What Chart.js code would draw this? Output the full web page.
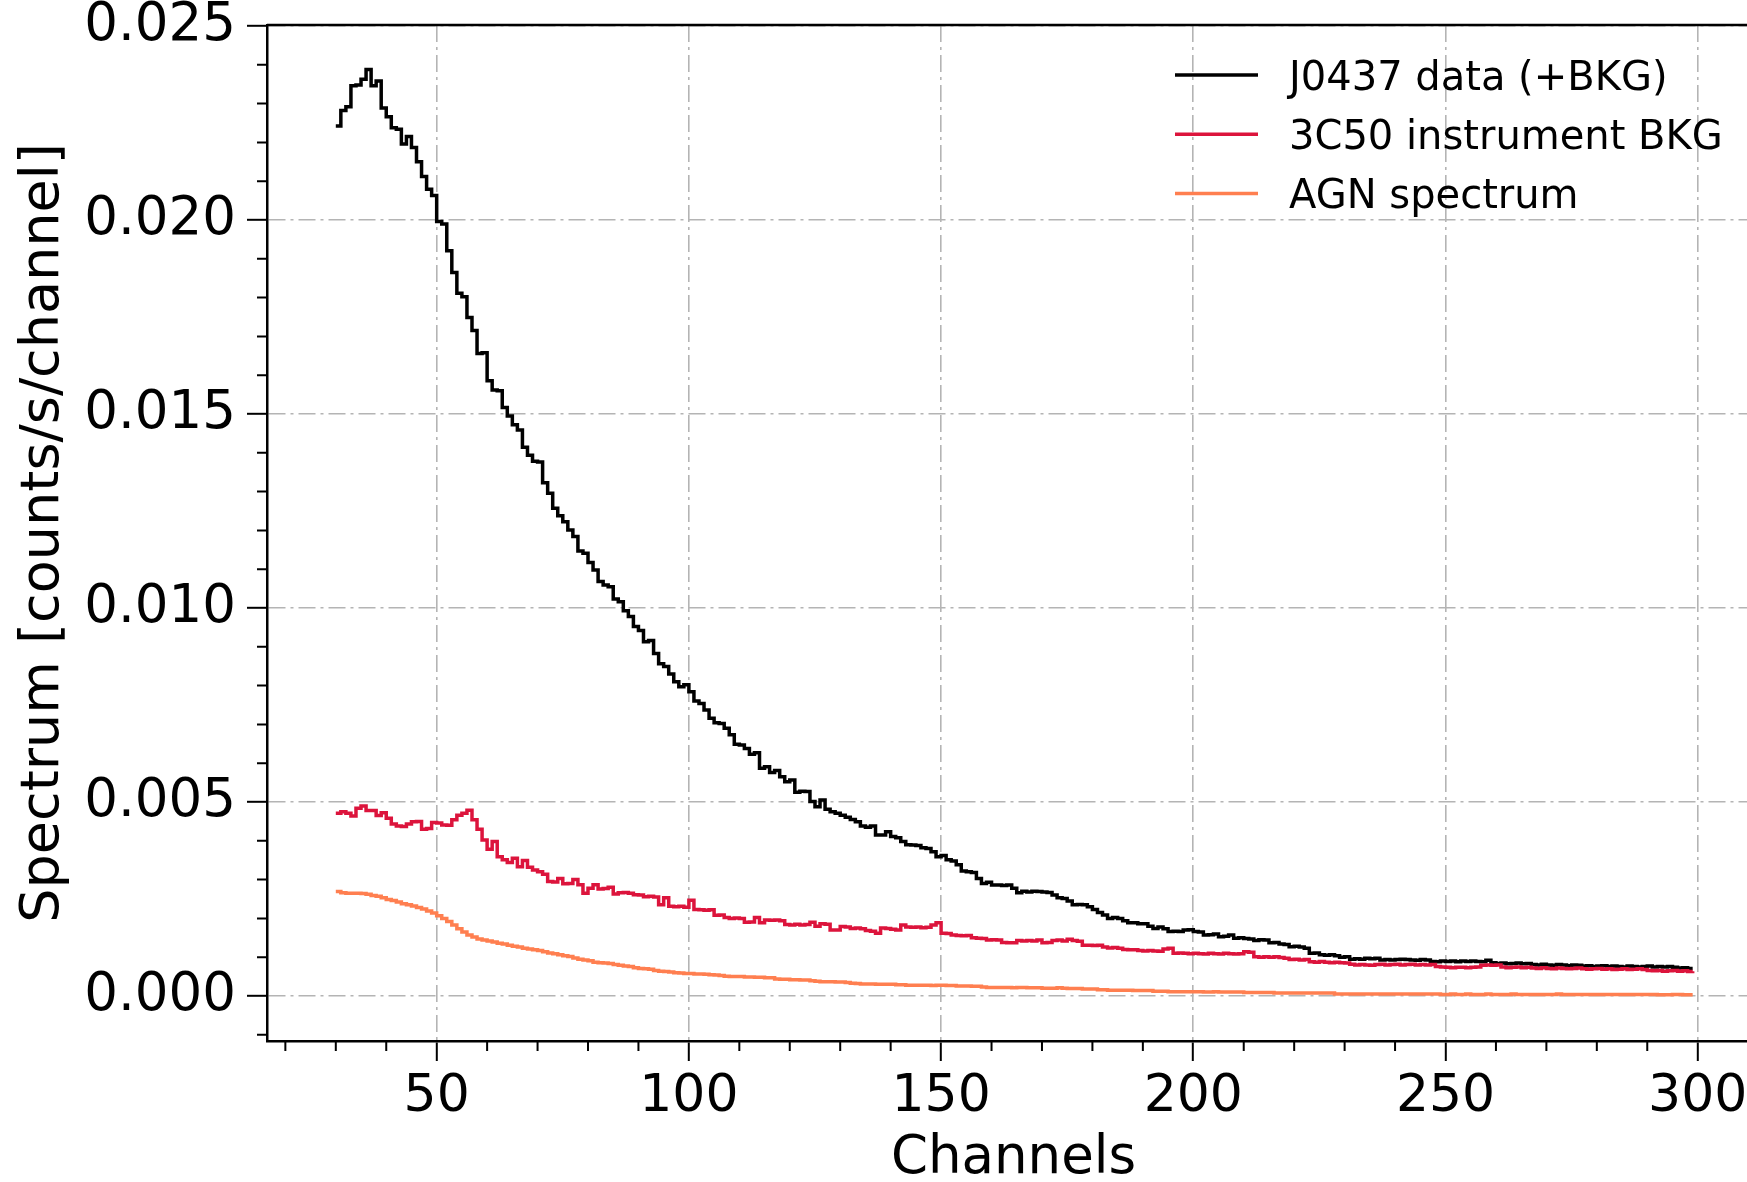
<!DOCTYPE html>
<html lang="en">
<head>
<meta charset="utf-8">
<title>J0437 spectrum</title>
<script src="https://cdn.jsdelivr.net/npm/chart.js@4.4.1/dist/chart.umd.min.js"></script>
<style>
  html, body { margin: 0; padding: 0; overflow: hidden; background: #ffffff; }
  #spectrum-chart { display: block; }
</style>
</head>
<body>
<canvas id="spectrum-chart" width="1790" height="1200"></canvas>
<script>
const FONT = "'DejaVu Sans', sans-serif";
const GRID_COLOR = "#b4b4b4";

const FIRST_CHANNEL = 30;
const xTickValues = [50, 100, 150, 200, 250, 300];
const yTickValues = [0, 0.005, 0.01, 0.015, 0.02, 0.025];

const seriesLabels = ["J0437 data (+BKG)", "3C50 instrument BKG", "AGN spectrum"];
const seriesColors = ["#000000", "#dc143c", "#ff7f50"];

// channels 30 .. 299, counts/s/channel
const j0437Data = [
  0.02242, 0.02282, 0.02292, 0.02346, 0.02348, 0.02363, 0.02388, 0.02346, 0.02358, 0.02289,
  0.02266, 0.02238, 0.02234, 0.02196, 0.02215, 0.02187, 0.02150, 0.02112, 0.02079, 0.02063,
  0.01996, 0.01990, 0.01921, 0.01865, 0.01811, 0.01802, 0.01749, 0.01715, 0.01656, 0.01658,
  0.01586, 0.01562, 0.01560, 0.01517, 0.01495, 0.01472, 0.01459, 0.01414, 0.01394, 0.01378,
  0.01376, 0.01323, 0.01296, 0.01257, 0.01238, 0.01222, 0.01201, 0.01184, 0.01147, 0.01141,
  0.01117, 0.01098, 0.01068, 0.01059, 0.01055, 0.01023, 0.01016, 0.00993, 0.00978, 0.00952,
  0.00942, 0.00913, 0.00916, 0.00883, 0.00856, 0.00849, 0.00830, 0.00810, 0.00797, 0.00802,
  0.00784, 0.00760, 0.00754, 0.00737, 0.00716, 0.00704, 0.00702, 0.00690, 0.00673, 0.00649,
  0.00647, 0.00638, 0.00623, 0.00627, 0.00587, 0.00591, 0.00576, 0.00581, 0.00565, 0.00552,
  0.00557, 0.00525, 0.00528, 0.00527, 0.00501, 0.00488, 0.00505, 0.00481, 0.00475, 0.00471,
  0.00466, 0.00461, 0.00455, 0.00449, 0.00438, 0.00435, 0.00438, 0.00415, 0.00415, 0.00423,
  0.00411, 0.00408, 0.00398, 0.00390, 0.00389, 0.00388, 0.00382, 0.00380, 0.00372, 0.00359,
  0.00362, 0.00351, 0.00348, 0.00338, 0.00322, 0.00320, 0.00318, 0.00303, 0.00290, 0.00293,
  0.00286, 0.00286, 0.00285, 0.00286, 0.00278, 0.00266, 0.00270, 0.00268, 0.00270, 0.00269,
  0.00268, 0.00267, 0.00260, 0.00253, 0.00251, 0.00245, 0.00235, 0.00236, 0.00235, 0.00230,
  0.00223, 0.00215, 0.00209, 0.00200, 0.00202, 0.00200, 0.00194, 0.00189, 0.00189, 0.00186,
  0.00186, 0.00180, 0.00174, 0.00178, 0.00173, 0.00166, 0.00167, 0.00166, 0.00170, 0.00171,
  0.00166, 0.00165, 0.00157, 0.00158, 0.00160, 0.00153, 0.00154, 0.00157, 0.00149, 0.00150,
  0.00148, 0.00147, 0.00143, 0.00145, 0.00144, 0.00137, 0.00138, 0.00134, 0.00133, 0.00127,
  0.00128, 0.00126, 0.00123, 0.00110, 0.00111, 0.00106, 0.00105, 0.00106, 0.00104, 0.00100,
  0.00101, 0.00095, 0.00096, 0.00095, 0.00097, 0.00096, 0.00097, 0.00093, 0.00094, 0.00093,
  0.00094, 0.00095, 0.00094, 0.00093, 0.00092, 0.00094, 0.00093, 0.00089, 0.00088, 0.00090,
  0.00089, 0.00090, 0.00088, 0.00090, 0.00089, 0.00090, 0.00089, 0.00088, 0.00092, 0.00086,
  0.00084, 0.00085, 0.00083, 0.00084, 0.00085, 0.00083, 0.00084, 0.00081, 0.00080, 0.00082,
  0.00080, 0.00079, 0.00081, 0.00080, 0.00078, 0.00080, 0.00079, 0.00077, 0.00078, 0.00076,
  0.00077, 0.00078, 0.00076, 0.00077, 0.00076, 0.00075, 0.00077, 0.00076, 0.00075, 0.00076,
  0.00077, 0.00075, 0.00076, 0.00075, 0.00076, 0.00074, 0.00072, 0.00073, 0.00071, 0.00071,
];

const instrumentBkg = [
  0.00471, 0.00475, 0.00471, 0.00464, 0.00484, 0.00490, 0.00478, 0.00478, 0.00465, 0.00472,
  0.00458, 0.00443, 0.00438, 0.00437, 0.00443, 0.00449, 0.00450, 0.00430, 0.00432, 0.00447,
  0.00446, 0.00441, 0.00440, 0.00454, 0.00466, 0.00471, 0.00479, 0.00454, 0.00430, 0.00402,
  0.00378, 0.00398, 0.00359, 0.00351, 0.00344, 0.00355, 0.00333, 0.00349, 0.00332, 0.00325,
  0.00320, 0.00314, 0.00295, 0.00294, 0.00303, 0.00289, 0.00290, 0.00300, 0.00287, 0.00265,
  0.00278, 0.00287, 0.00276, 0.00277, 0.00280, 0.00263, 0.00266, 0.00267, 0.00265, 0.00261,
  0.00260, 0.00256, 0.00257, 0.00255, 0.00235, 0.00253, 0.00231, 0.00230, 0.00231, 0.00229,
  0.00247, 0.00223, 0.00222, 0.00221, 0.00222, 0.00208, 0.00209, 0.00202, 0.00200, 0.00201,
  0.00200, 0.00190, 0.00191, 0.00202, 0.00189, 0.00196, 0.00195, 0.00196, 0.00194, 0.00184,
  0.00183, 0.00185, 0.00183, 0.00184, 0.00190, 0.00180, 0.00186, 0.00185, 0.00170, 0.00170,
  0.00179, 0.00178, 0.00174, 0.00175, 0.00173, 0.00169, 0.00167, 0.00162, 0.00175, 0.00174,
  0.00172, 0.00170, 0.00183, 0.00178, 0.00177, 0.00178, 0.00176, 0.00177, 0.00183, 0.00189,
  0.00162, 0.00161, 0.00157, 0.00156, 0.00155, 0.00156, 0.00150, 0.00149, 0.00148, 0.00144,
  0.00145, 0.00144, 0.00138, 0.00137, 0.00137, 0.00143, 0.00142, 0.00143, 0.00142, 0.00144,
  0.00137, 0.00138, 0.00143, 0.00144, 0.00142, 0.00146, 0.00143, 0.00141, 0.00131, 0.00131,
  0.00130, 0.00131, 0.00126, 0.00124, 0.00125, 0.00123, 0.00120, 0.00119, 0.00119, 0.00117,
  0.00116, 0.00117, 0.00116, 0.00115, 0.00121, 0.00123, 0.00110, 0.00111, 0.00110, 0.00109,
  0.00110, 0.00109, 0.00108, 0.00110, 0.00109, 0.00108, 0.00110, 0.00109, 0.00108, 0.00109,
  0.00114, 0.00113, 0.00101, 0.00100, 0.00101, 0.00100, 0.00101, 0.00099, 0.00097, 0.00094,
  0.00095, 0.00093, 0.00094, 0.00088, 0.00087, 0.00089, 0.00087, 0.00086, 0.00087, 0.00086,
  0.00085, 0.00082, 0.00080, 0.00081, 0.00080, 0.00079, 0.00081, 0.00082, 0.00080, 0.00081,
  0.00082, 0.00080, 0.00081, 0.00082, 0.00080, 0.00081, 0.00080, 0.00081, 0.00076, 0.00075,
  0.00074, 0.00073, 0.00074, 0.00074, 0.00073, 0.00074, 0.00075, 0.00079, 0.00080, 0.00079,
  0.00080, 0.00075, 0.00073, 0.00074, 0.00075, 0.00073, 0.00074, 0.00072, 0.00071, 0.00073,
  0.00071, 0.00070, 0.00072, 0.00071, 0.00070, 0.00071, 0.00072, 0.00070, 0.00069, 0.00070,
  0.00071, 0.00069, 0.00070, 0.00068, 0.00069, 0.00070, 0.00068, 0.00069, 0.00070, 0.00068,
  0.00066, 0.00065, 0.00066, 0.00064, 0.00065, 0.00066, 0.00064, 0.00065, 0.00063, 0.00064,
];

const agnSpectrum = [
  0.00269, 0.00266, 0.00265, 0.00265, 0.00265, 0.00264, 0.00262, 0.00259, 0.00257, 0.00253,
  0.00249, 0.00246, 0.00242, 0.00238, 0.00235, 0.00232, 0.00228, 0.00224, 0.00219, 0.00214,
  0.00207, 0.00200, 0.00192, 0.00183, 0.00173, 0.00165, 0.00157, 0.00152, 0.00147, 0.00144,
  0.00142, 0.00139, 0.00136, 0.00134, 0.00131, 0.00128, 0.00126, 0.00123, 0.00121, 0.00119,
  0.00117, 0.00114, 0.00111, 0.00109, 0.00106, 0.00104, 0.00102, 0.00098, 0.00095, 0.00093,
  0.00091, 0.00087, 0.00086, 0.00085, 0.00084, 0.00081, 0.00079, 0.00077, 0.00076, 0.00073,
  0.00071, 0.00070, 0.00069, 0.00066, 0.00064, 0.00063, 0.00062, 0.00060, 0.00059, 0.00058,
  0.00058, 0.00057, 0.00057, 0.00056, 0.00055, 0.00054, 0.00053, 0.00051, 0.00050, 0.00050,
  0.00050, 0.00049, 0.00049, 0.00048, 0.00048, 0.00047, 0.00047, 0.00044, 0.00043, 0.00043,
  0.00042, 0.00042, 0.00041, 0.00041, 0.00039, 0.00038, 0.00037, 0.00037, 0.00037, 0.00036,
  0.00036, 0.00035, 0.00033, 0.00032, 0.00031, 0.00031, 0.00031, 0.00030, 0.00030, 0.00030,
  0.00030, 0.00029, 0.00029, 0.00028, 0.00028, 0.00028, 0.00028, 0.00028, 0.00027, 0.00028,
  0.00028, 0.00027, 0.00027, 0.00026, 0.00026, 0.00026, 0.00025, 0.00025, 0.00023, 0.00022,
  0.00022, 0.00022, 0.00022, 0.00022, 0.00021, 0.00022, 0.00022, 0.00021, 0.00021, 0.00021,
  0.00020, 0.00020, 0.00020, 0.00021, 0.00020, 0.00019, 0.00019, 0.00019, 0.00018, 0.00018,
  0.00018, 0.00016, 0.00016, 0.00015, 0.00015, 0.00015, 0.00015, 0.00015, 0.00014, 0.00014,
  0.00014, 0.00014, 0.00012, 0.00012, 0.00012, 0.00011, 0.00011, 0.00011, 0.00011, 0.00011,
  0.00011, 0.00011, 0.00010, 0.00010, 0.00011, 0.00010, 0.00010, 0.00010, 0.00010, 0.00010,
  0.00009, 0.00009, 0.00009, 0.00009, 0.00009, 0.00009, 0.00008, 0.00008, 0.00008, 0.00008,
  0.00008, 0.00008, 0.00008, 0.00008, 0.00008, 0.00008, 0.00008, 0.00008, 0.00005, 0.00005,
  0.00005, 0.00005, 0.00005, 0.00005, 0.00005, 0.00005, 0.00005, 0.00005, 0.00005, 0.00005,
  0.00005, 0.00005, 0.00005, 0.00005, 0.00005, 0.00005, 0.00005, 0.00005, 0.00005, 0.00004,
  0.00004, 0.00005, 0.00004, 0.00004, 0.00005, 0.00004, 0.00004, 0.00004, 0.00005, 0.00004,
  0.00004, 0.00004, 0.00004, 0.00005, 0.00004, 0.00004, 0.00004, 0.00004, 0.00004, 0.00004,
  0.00004, 0.00004, 0.00005, 0.00004, 0.00004, 0.00004, 0.00004, 0.00004, 0.00004, 0.00004,
  0.00004, 0.00004, 0.00004, 0.00004, 0.00004, 0.00004, 0.00004, 0.00004, 0.00004, 0.00004,
  0.00004, 0.00004, 0.00003, 0.00003, 0.00003, 0.00004, 0.00004, 0.00003, 0.00003, 0.00003,
];

const seriesValues = [j0437Data, instrumentBkg, agnSpectrum];

function toPoints(values) {
  return values.map((value, index) => ({ x: FIRST_CHANNEL + index, y: value }));
}

function buildDataset(index) {
  return {
    label: seriesLabels[index],
    data: toPoints(seriesValues[index]),
    borderColor: seriesColors[index],
    borderWidth: 3.5,
    stepped: "before",
    pointRadius: 0,
    tension: 0,
    fill: false,
    order: seriesLabels.length - index,
  };
}

// matplotlib-style frame: top/right spines plus minor ticks
const frameAndMinorTicks = {
  id: "frameAndMinorTicks",
  afterDraw(chart) {
    const { ctx, chartArea, scales } = chart;
    ctx.save();
    ctx.strokeStyle = "#000";
    ctx.lineWidth = 2.5;
    ctx.beginPath();
    ctx.moveTo(chartArea.left, chartArea.top);
    ctx.lineTo(chartArea.right, chartArea.top);
    ctx.lineTo(chartArea.right, chartArea.bottom);
    ctx.stroke();

    ctx.lineWidth = 2;
    ctx.beginPath();
    for (let channel = 20; channel < scales.x.max; channel += 10) {
      if (channel % 50 === 0) continue;
      const px = scales.x.getPixelForValue(channel);
      ctx.moveTo(px, chartArea.bottom);
      ctx.lineTo(px, chartArea.bottom + 10);
    }
    for (let step = -1; step <= 25; step += 1) {
      if (step % 5 === 0) continue;
      const py = scales.y.getPixelForValue(step / 1000);
      ctx.moveTo(chartArea.left - 10, py);
      ctx.lineTo(chartArea.left, py);
    }
    ctx.stroke();
    ctx.restore();
  },
};

const legendInside = {
  id: "legendInside",
  afterDraw(chart) {
    const { ctx } = chart;
    ctx.save();
    ctx.font = `40px ${FONT}`;
    ctx.textAlign = "left";
    ctx.textBaseline = "alphabetic";
    seriesLabels.forEach((label, index) => {
      const rowY = 75 + index * 59.2;
      ctx.strokeStyle = seriesColors[index];
      ctx.lineWidth = 3.5;
      ctx.beginPath();
      ctx.moveTo(1175, rowY);
      ctx.lineTo(1258, rowY);
      ctx.stroke();
      ctx.fillStyle = "#000";
      ctx.fillText(label, 1289, rowY + 14.5);
    });
    ctx.restore();
  },
};

const ctx = document.querySelector("#spectrum-chart");

new Chart(ctx, {
  type: "line",
  data: {
    datasets: seriesLabels.map((_, index) => buildDataset(index)),
  },
  options: {
    responsive: false,
    animation: false,
    events: [],
    layout: { padding: { left: 0, top: 25, right: 30, bottom: 0 } },
    plugins: {
      legend: { display: false },
      tooltip: { enabled: false },
    },
    scales: {
      x: {
        type: "linear",
        min: 16.36,
        max: 312.35,
        afterBuildTicks: (scale) => {
          scale.ticks = xTickValues.map((value) => ({ value }));
        },
        afterFit: (scale) => {
          scale.height = 159;
          scale.paddingLeft = 0;
          scale.paddingRight = 0;
        },
        grid: {
          color: GRID_COLOR,
          lineWidth: 1.6,
          tickLength: 20,
          tickWidth: 2,
          tickColor: "#000",
          tickBorderDash: [],
        },
        border: { color: "#000", width: 2.5, dash: [17, 5, 3, 5] },
        ticks: {
          color: "#000",
          font: { family: FONT, size: 52 },
          padding: 5,
          maxRotation: 0,
          autoSkip: false,
          callback: (value) => String(value),
        },
        title: {
          display: true,
          text: "Channels",
          color: "#000",
          font: { family: FONT, size: 53 },
          padding: { top: 0, bottom: 9 },
        },
      },
      y: {
        type: "linear",
        min: -0.00116,
        max: 0.025026,
        afterBuildTicks: (scale) => {
          scale.ticks = yTickValues.map((value) => ({ value }));
        },
        afterFit: (scale) => {
          scale.width = 267;
          scale.paddingTop = 0;
          scale.paddingBottom = 0;
        },
        grid: {
          color: GRID_COLOR,
          lineWidth: 1.6,
          tickLength: 20,
          tickWidth: 2,
          tickColor: "#000",
          tickBorderDash: [],
        },
        border: { color: "#000", width: 2.5, dash: [17, 5, 3, 5] },
        ticks: {
          color: "#000",
          font: { family: FONT, size: 53 },
          padding: 11,
          autoSkip: false,
          callback: (value) => value.toFixed(3),
        },
        title: {
          display: true,
          text: "Spectrum [counts/s/channel]",
          color: "#000",
          font: { family: FONT, size: 54 },
          padding: { top: 12, bottom: 0 },
        },
      },
    },
  },
  plugins: [frameAndMinorTicks, legendInside],
});
</script>
</body>
</html>
